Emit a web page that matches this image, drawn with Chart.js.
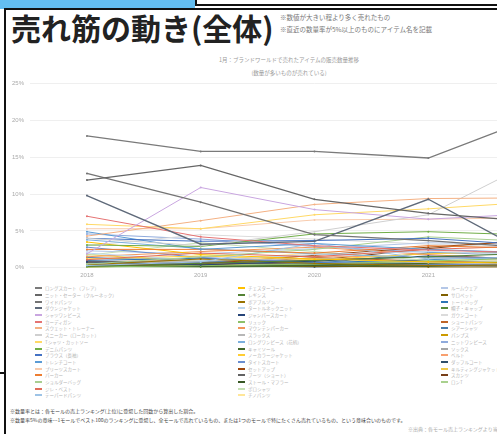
<!DOCTYPE html>
<html><head><meta charset="utf-8"><title>売れ筋の動き(全体)</title>
<script src="https://cdn.jsdelivr.net/npm/chart.js"></script>
<style>
body{margin:0;width:497px;height:434px;overflow:hidden;position:relative;background:#fff;font-family:"Noto Sans CJK JP","Noto Sans",sans-serif;}
.abs{position:absolute;}
#tab{left:0;top:0;width:195px;height:9px;background:#63bdf0;}
#tabline{left:195px;top:0;width:2px;height:6px;background:#111;}
#topline{left:195px;top:4px;width:310px;height:2px;background:#111;}
#frame{left:4px;top:8px;width:600px;height:500px;border-top:2px solid #111;border-left:2px solid #111;background:#fff;}
#title{left:11px;top:5px;font-size:30px;font-weight:bold;color:#222;white-space:nowrap;}
.note{font-size:6.5px;color:#777;white-space:nowrap;left:280px;}
.ctitle{font-size:5.5px;color:#999;white-space:nowrap;width:300px;left:139px;text-align:center;}
#box{left:3px;top:74px;width:600px;height:211px;}
#legend{left:35px;top:285px;display:grid;grid-template-columns:203px 203px 203px;grid-template-rows:repeat(17,6.7px);grid-auto-flow:column;}
.li{display:flex;align-items:center;font-size:4.5px;color:#b5b5b5;white-space:nowrap;height:6.7px;overflow:hidden;}
.sw{width:7px;height:2px;margin-right:3px;flex:none;}
.foot{left:10px;font-size:5px;color:#444;white-space:nowrap;}
</style></head>
<body>
<div id="tab" class="abs"></div>
<div id="tabline" class="abs"></div>
<div id="topline" class="abs"></div>
<div id="frame" class="abs"></div>
<div class="abs" style="left:0;top:372px;width:5px;height:1.5px;background:#111"></div>
<div id="title" class="abs">売れ筋の動き(全体)</div>
<div class="abs note" style="top:12px">※数値が大きい程より多く売れたもの</div>
<div class="abs note" style="top:24px">※直近の数量率が5%以上のものにアイテム名を記載</div>
<div class="abs ctitle" style="top:56px">1月：ブランドワールドで売れたアイテムの販売数量推移</div>
<div class="abs ctitle" style="top:69px">(数量が多いものが売れている)</div>
<div id="box" class="abs"><canvas id="trendChart"></canvas></div>
<div id="legend" class="abs"></div>
<div class="abs foot" style="top:407px">※数量率とは：各モールの売上ランキング(上位)に登場した回数から算出した割合。</div>
<div class="abs foot" style="top:416px">※数量率5%の意味…1モールでベスト100のランキングに登場し、全モールで売れているもの、または1つのモールで特にたくさん売れているもの、という意味合いのものです。</div>
<div class="abs" style="left:408px;top:425px;font-size:5px;color:#aaa;white-space:nowrap">※出典：各モール売上ランキングより当社作成</div>
<script>
const years = ['2018', '2019', '2020', '2021', '2022'];

const itemNames = [
  'ロングスカート（フレア）', 'ニット・セーター（クルーネック）', 'ワイドパンツ', 'ダウンジャケット', 'シャツワンピース',
  'カーディガン', 'スウェット・トレーナー', 'スニーカー（ローカット）', 'Tシャツ・カットソー', 'デニムパンツ',
  'ブラウス（長袖）', 'トレンチコート', 'プリーツスカート', 'パーカー', 'ショルダーバッグ',
  'ジレ・ベスト', 'テーパードパンツ', 'チェスターコート', 'レギンス', 'ボアブルゾン',
  'タートルネックニット', 'ジャンパースカート', 'リュック', 'マウンテンパーカー', 'スラックス',
  'ロングワンピース（花柄）', 'キャミソール', 'ノーカラージャケット', 'タイトスカート', 'セットアップ',
  'ブーツ（ショート）', 'ストール・マフラー', 'ポロシャツ', 'チノパンツ', 'ルームウェア',
  'サロペット', 'トートバッグ', '帽子・キャップ', 'ガウンコート', 'ショートパンツ',
  'シアーシャツ', 'パンプス', 'ニットワンピース', 'ソックス', 'ベルト',
  'ダッフルコート', 'キルティングジャケット', 'スカンツ', 'ロンT'
];

const shares = [
  [17.9, 15.8, 15.8, 14.9, 20.8],
  [11.9, 13.9, 9.3, 7.4, 6.2],
  [12.8, 8.9, 4.5, 3.7, 2.6],
  [9.8, 3.2, 3.6, 9.3, 1.0],
  [1.9, 10.9, 7.9, 6.6, 7.4],
  [7.0, 4.2, 3.0, 2.4, 2.0],
  [4.3, 6.4, 8.6, 9.4, 9.5],
  [4.0, 3.0, 4.9, 7.2, 15.0],
  [5.9, 5.3, 7.2, 8.0, 9.0],
  [3.1, 2.9, 4.6, 4.9, 4.4],
  [4.0, 3.6, 3.7, 4.0, 3.0],
  [4.9, 2.5, 3.3, 2.5, 2.0],
  [5.3, 5.3, 6.5, 6.6, 6.8],
  [2.5, 2.5, 2.0, 3.0, 2.6],
  [0.5, 1.5, 2.5, 4.2, 3.5],
  [1.1, 2.0, 1.5, 2.5, 3.0],
  [0.3, 0.8, 3.3, 1.2, 1.5],
  [3.5, 1.8, 1.2, 0.8, 0.6],
  [0.2, 0.6, 1.0, 1.5, 2.0],
  [0.4, 1.2, 0.6, 0.3, 0.4],
  [2.0, 1.0, 1.8, 2.2, 1.8],
  [0.8, 0.4, 0.9, 1.6, 1.2],
  [0.1, 0.3, 0.5, 0.9, 1.4],
  [1.5, 2.2, 2.8, 1.8, 1.0],
  [0.6, 0.9, 1.3, 0.7, 0.5],
  [3.8, 2.6, 1.9, 1.4, 1.1],
  [0.3, 0.2, 0.4, 0.6, 0.8],
  [1.2, 1.6, 1.1, 1.9, 2.4],
  [2.8, 1.4, 0.8, 0.5, 0.3],
  [0.2, 0.5, 1.7, 2.8, 3.8],
  [0.9, 0.7, 0.5, 0.4, 0.3],
  [0.4, 0.2, 0.3, 0.2, 0.5],
  [1.7, 3.4, 2.2, 1.0, 0.8],
  [0.5, 1.0, 2.0, 1.3, 0.9],
  [2.3, 1.9, 2.6, 3.4, 3.1],
  [0.7, 0.4, 0.2, 0.1, 0.1],
  [1.0, 1.3, 0.7, 1.1, 1.6],
  [0.2, 0.1, 0.2, 0.4, 0.3],
  [3.0, 4.5, 3.9, 3.2, 2.7],
  [0.6, 0.3, 1.4, 0.9, 0.7],
  [1.4, 0.9, 0.6, 2.0, 2.2],
  [0.1, 0.4, 0.8, 0.5, 0.2],
  [4.6, 3.9, 2.9, 2.1, 1.6],
  [0.3, 0.6, 0.4, 0.8, 1.0],
  [0.8, 1.1, 1.6, 1.4, 1.2],
  [0.2, 0.3, 0.1, 0.3, 0.2],
  [1.8, 0.8, 0.4, 0.6, 0.9],
  [0.4, 0.7, 1.0, 2.6, 4.0],
  [0.1, 0.2, 0.6, 1.0, 0.7]
];

const yTicks = ['0%', '5%', '10%', '15%', '20%', '25%'];

const lineColors = [
  '#7a7a7a', '#666666', '#747474', '#5f6a7a', '#c9a6e0', '#e57373', '#f4b183', '#cfcfcf',
  '#ffd966', '#70ad47', '#4472c4', '#5b9bd5', '#f8cbad', '#ed7d31', '#a9ce91', '#e06c5a',
  '#9dc3e6', '#ffc000', '#548235', '#997300', '#bdd7ee', '#264478', '#8cc168', '#f1975a',
  '#b7b7b7', '#7cafdd', '#43682b', '#ffcd33', '#698ed0', '#9e480e', '#636363', '#385724',
  '#c5e0b4', '#ffe699', '#b4c7e7', '#806000', '#2e75b6', '#5a8a39', '#dbdbdb', '#be6427',
  '#497caa', '#cc9a00', '#8faadc', '#a5a5a5', '#f8a070', '#2e4e6b', '#efc94c', '#773f18',
  '#a9d18e'
];

const datasets = itemNames.map((name, i) => ({
  label: name,
  data: shares[i],
  borderColor: lineColors[i],
  backgroundColor: lineColors[i],
  borderWidth: i < 4 ? 1.3 : 1,
  pointRadius: 1,
  pointBorderWidth: 0
}));

new Chart(document.getElementById('trendChart'), {
  type: 'line',
  data: { labels: years, datasets },
  options: {
    responsive: true,
    maintainAspectRatio: false,
    animation: false,
    layout: { padding: { left: 3, top: 3, bottom: 2, right: 0 } },
    plugins: { legend: { display: false }, tooltip: { enabled: false } },
    scales: {
      x: {
        offset: true,
        grid: { display: false, drawTicks: false },
        border: { display: false },
        ticks: { color: '#aaa', font: { size: 6 }, padding: 4 }
      },
      y: {
        min: 0, max: 25,
        grid: { color: '#efefef', drawTicks: false },
        border: { display: false },
        ticks: { stepSize: 5, color: '#aaa', font: { size: 6 }, padding: 6,
          callback: (v) => yTicks[v / 5] }
      }
    }
  }
});

const legend = document.getElementById('legend');
datasets.forEach(d => {
  const row = document.createElement('div');
  row.className = 'li';
  row.innerHTML = '<span class="sw" style="background:' + d.borderColor + '"></span>' + d.label;
  legend.appendChild(row);
});
</script></body></html>
